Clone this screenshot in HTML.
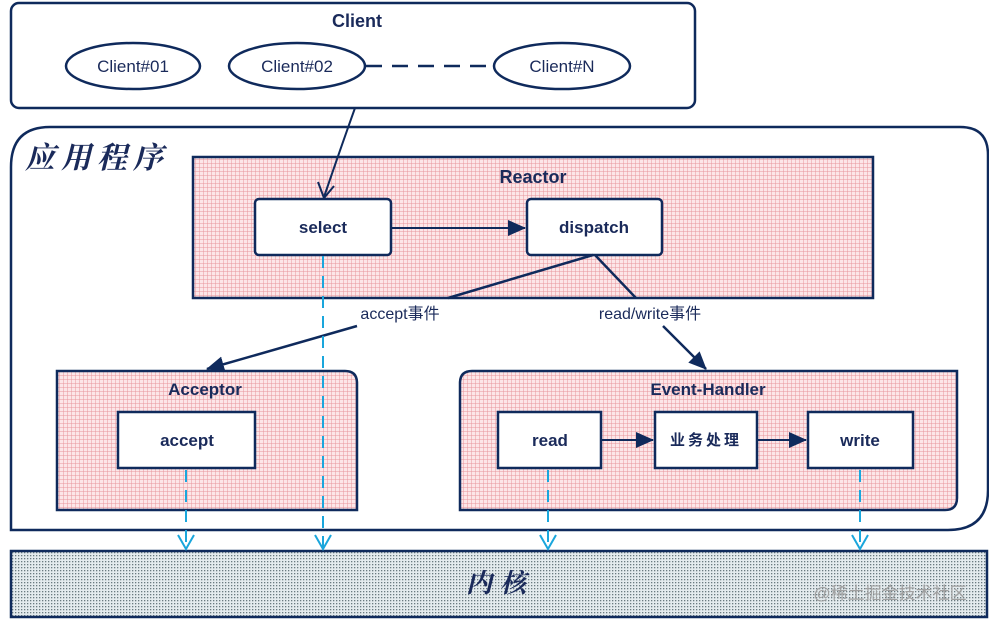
<!DOCTYPE html>
<html><head><meta charset="utf-8"><style>
html,body{margin:0;padding:0;background:#fff;width:989px;height:621px;overflow:hidden}
svg{display:block}
.t{font-family:"Liberation Sans","Noto Sans CJK SC",sans-serif;font-weight:bold;fill:#1a2a5a;font-size:17px;text-anchor:middle}
.h{font-family:"Liberation Sans","Noto Sans CJK SC",sans-serif;fill:#1a2a5a;font-size:17px;text-anchor:middle}
.b{fill:#fff;stroke:#0f2a5c;stroke-width:2.5}
</style></head><body>
<svg width="989" height="621" viewBox="0 0 989 621" xmlns="http://www.w3.org/2000/svg">
<defs>
<pattern id="grid" width="4" height="4" patternUnits="userSpaceOnUse">
<rect width="4" height="4" fill="#fce6e8"/>
<path d="M4 0V4M0 4H4" stroke="#e8959c" stroke-width="1"/>
</pattern>
<pattern id="dots" width="3" height="3" patternUnits="userSpaceOnUse">
<rect width="3" height="3" fill="#e4ebee"/>
<rect width="1.3" height="1.3" fill="#6a7a80"/>
</pattern>
<marker id="ar2" markerWidth="18" markerHeight="18" refX="17" refY="9" orient="auto" markerUnits="userSpaceOnUse" viewBox="0 0 18 18"><path d="M0 1L18 9L0 17z" fill="#0f2a5c"/></marker>
</defs>
<!-- Client -->
<rect x="11" y="3" width="684" height="105" rx="8" class="b"/>
<text x="357" y="27" class="t" style="font-size:18px">Client</text>
<ellipse cx="133" cy="66" rx="67" ry="23" class="b" stroke-width="2"/>
<text x="133" y="72" class="h">Client#01</text>
<ellipse cx="297" cy="66" rx="68" ry="23" class="b" stroke-width="2"/>
<text x="297" y="72" class="h">Client#02</text>
<ellipse cx="562" cy="66" rx="68" ry="23" class="b" stroke-width="2"/>
<text x="562" y="72" class="h">Client#N</text>
<line x1="366" y1="66" x2="494" y2="66" stroke="#0f2a5c" stroke-width="2.5" stroke-dasharray="16,10"/>
<!-- app -->
<path d="M50 127H960Q988 127 988 155V490Q988 530 948 530H11V167Q11 127 50 127Z" class="b"/>
<text x="25" y="168" style="font-family:'Noto Serif CJK SC','Noto Sans CJK SC',serif;font-size:30px;font-style:italic;font-weight:bold;fill:#1a2a5a;letter-spacing:6px">应用程序</text>
<!-- Reactor -->
<rect x="193" y="157" width="680" height="141" fill="url(#grid)" stroke="#0f2a5c" stroke-width="2.5"/>
<text x="533" y="183" class="t" style="font-size:18px">Reactor</text>
<rect x="255" y="199" width="136" height="56" rx="4" class="b"/>
<text x="323" y="233" class="t">select</text>
<rect x="527" y="199" width="135" height="56" rx="4" class="b"/>
<text x="594" y="233" class="t">dispatch</text>
<line x1="391" y1="228" x2="525" y2="228" stroke="#0f2a5c" stroke-width="2" marker-end="url(#ar2)"/>
<path d="M355 108Q340 150 324 197" fill="none" stroke="#0f2a5c" stroke-width="2"/>
<path d="M318 182L324 198L334 186" fill="none" stroke="#0f2a5c" stroke-width="2"/>
<!-- acceptor -->
<path d="M57 371H345Q357 371 357 383V510H57Z" fill="url(#grid)" stroke="#0f2a5c" stroke-width="2.5"/>
<text x="205" y="395" class="t">Acceptor</text>
<rect x="118" y="412" width="137" height="56" class="b"/>
<text x="187" y="446" class="t">accept</text>
<!-- event handler -->
<path d="M472 371H957V498Q957 510 945 510H460V383Q460 371 472 371Z" fill="url(#grid)" stroke="#0f2a5c" stroke-width="2.5"/>
<text x="708" y="395" class="t">Event-Handler</text>
<rect x="498" y="412" width="103" height="56" class="b"/>
<text x="550" y="446" class="t">read</text>
<rect x="655" y="412" width="102" height="56" class="b"/>
<text x="706" y="445" class="h" style="font-size:15px;font-weight:bold;letter-spacing:3px">业务处理</text>
<rect x="808" y="412" width="105" height="56" class="b"/>
<text x="860" y="446" class="t">write</text>
<line x1="601" y1="440" x2="653" y2="440" stroke="#0f2a5c" stroke-width="2" marker-end="url(#ar2)"/>
<line x1="757" y1="440" x2="806" y2="440" stroke="#0f2a5c" stroke-width="2" marker-end="url(#ar2)"/>
<!-- dispatch links -->
<path d="M593 255L448 298M595 255L636 298" stroke="#0f2a5c" stroke-width="2.5" fill="none"/>
<text x="400" y="319" class="h" style="font-size:16px">accept事件</text>
<text x="650" y="319" class="h" style="font-size:16px">read/write事件</text>
<line x1="357" y1="326" x2="207" y2="369" stroke="#0f2a5c" stroke-width="2.5" marker-end="url(#ar2)"/>
<line x1="663" y1="326" x2="706" y2="369" stroke="#0f2a5c" stroke-width="2.5" marker-end="url(#ar2)"/>
<!-- kernel -->
<rect x="11" y="551" width="976" height="66" fill="url(#dots)" stroke="#0f2a5c" stroke-width="2.5"/>
<text x="500" y="592" style="font-family:'Noto Serif CJK SC',serif;font-size:26px;font-style:italic;font-weight:bold;fill:#1a2a5a;text-anchor:middle;letter-spacing:8px">内核</text>
<text x="890" y="599" style="font-family:'Liberation Sans','Noto Sans CJK SC',sans-serif;font-size:17px;fill:#a0a0a0;text-anchor:middle">@稀土掘金技术社区</text>
<!-- blue dashed -->
<g stroke="#1aa6dc" stroke-width="2" fill="none">
<line x1="186" y1="470" x2="186" y2="548" stroke-dasharray="12,8"/>
<line x1="323" y1="256" x2="323" y2="548" stroke-dasharray="12,8"/>
<line x1="548" y1="470" x2="548" y2="548" stroke-dasharray="12,8"/>
<line x1="860" y1="470" x2="860" y2="548" stroke-dasharray="12,8"/>
<path d="M178 535L186 549L194 535M315 535L323 549L331 535M540 535L548 549L556 535M852 535L860 549L868 535"/>
</g>
</svg>
</body></html>
